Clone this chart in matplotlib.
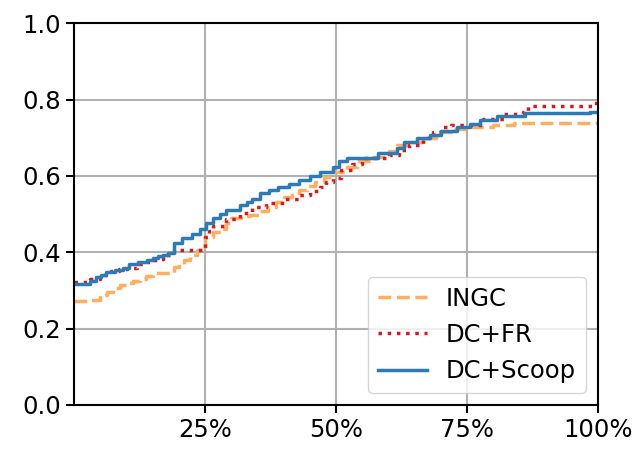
import matplotlib
matplotlib.use("Agg")
import matplotlib.pyplot as plt

# fraction of items (x) vs. cumulative value (y)
ingc_x = [0.000, 0.030, 0.050, 0.062, 0.075, 0.088, 0.100, 0.113, 0.126, 0.138,
          0.150, 0.190, 0.200, 0.210, 0.222, 0.235, 0.250, 0.265, 0.280, 0.290,
          0.300, 0.318, 0.336, 0.352, 0.370, 0.385, 0.400, 0.415, 0.430, 0.445,
          0.460, 0.477, 0.494, 0.520, 0.540, 0.570, 0.600, 0.616, 0.640, 0.666,
          0.690, 0.720, 0.760, 0.800, 0.840, 1.000]
ingc_y = [0.272, 0.276, 0.288, 0.297, 0.306, 0.313, 0.319, 0.325, 0.330, 0.338,
          0.346, 0.362, 0.370, 0.380, 0.392, 0.406, 0.440, 0.452, 0.460, 0.476,
          0.490, 0.494, 0.497, 0.507, 0.518, 0.532, 0.545, 0.555, 0.563, 0.574,
          0.584, 0.598, 0.610, 0.623, 0.640, 0.650, 0.665, 0.680, 0.690, 0.700,
          0.715, 0.722, 0.728, 0.733, 0.738, 0.738]

fr_x = [0.000, 0.030, 0.050, 0.070, 0.085, 0.100, 0.120, 0.140, 0.155, 0.170,
        0.190, 0.250, 0.258, 0.265, 0.290, 0.317, 0.340, 0.367, 0.400, 0.430,
        0.450, 0.470, 0.480, 0.494, 0.510, 0.530, 0.550, 0.600, 0.620, 0.640,
        0.666, 0.685, 0.700, 0.720, 0.780, 0.820, 0.857, 0.866, 0.990, 1.000]
fr_y = [0.322, 0.330, 0.340, 0.350, 0.355, 0.360, 0.368, 0.375, 0.383, 0.392,
        0.406, 0.440, 0.455, 0.470, 0.488, 0.503, 0.518, 0.530, 0.540, 0.550,
        0.560, 0.571, 0.583, 0.594, 0.615, 0.632, 0.647, 0.654, 0.667, 0.680,
        0.700, 0.715, 0.728, 0.733, 0.749, 0.762, 0.767, 0.782, 0.790, 0.790]

scoop_x = [0.000, 0.030, 0.042, 0.052, 0.060, 0.078, 0.094, 0.105, 0.122, 0.140,
           0.150, 0.160, 0.170, 0.180, 0.190, 0.205, 0.225, 0.240, 0.252, 0.265,
           0.278, 0.290, 0.317, 0.330, 0.340, 0.355, 0.372, 0.390, 0.410, 0.430,
           0.450, 0.470, 0.494, 0.505, 0.520, 0.580, 0.616, 0.630, 0.655, 0.680,
           0.700, 0.730, 0.755, 0.775, 0.807, 0.860, 0.985, 1.000]
scoop_y = [0.318, 0.325, 0.334, 0.341, 0.348, 0.354, 0.359, 0.368, 0.374, 0.380,
           0.385, 0.390, 0.394, 0.398, 0.424, 0.437, 0.447, 0.462, 0.476, 0.490,
           0.500, 0.510, 0.524, 0.532, 0.540, 0.555, 0.563, 0.571, 0.580, 0.589,
           0.600, 0.610, 0.623, 0.638, 0.647, 0.660, 0.673, 0.690, 0.698, 0.707,
           0.718, 0.728, 0.737, 0.746, 0.757, 0.764, 0.768, 0.768]

x_ticks = [0.25, 0.5, 0.75, 1.0]
x_labels = ["25%", "50%", "75%", "100%"]

plt.rcParams["font.size"] = 17.5

fig = plt.figure(figsize=(6.39, 4.55), dpi=100)
ax = fig.add_axes([0.116, 0.110, 0.820, 0.839])

ax.plot(ingc_x, ingc_y, drawstyle="steps-post", color="#fdae61",
        linestyle="--", linewidth=2.5, label="INGC")
ax.plot(fr_x, fr_y, drawstyle="steps-post", color="#d7191c",
        linestyle=":", linewidth=2.5, label="DC+FR")
ax.plot(scoop_x, scoop_y, drawstyle="steps-post", color="#2c7bb6",
        linestyle="-", linewidth=2.5, label="DC+Scoop")

ax.set_xlim(0, 1)
ax.set_ylim(0, 1)
ax.set_xticks(x_ticks)
ax.set_xticklabels(x_labels)
ax.set_yticks([0.0, 0.2, 0.4, 0.6, 0.8, 1.0])
ax.grid(True, color="#b0b0b0", linewidth=1.5)
ax.set_axisbelow(True)
for s in ax.spines.values():
    s.set_linewidth(1.5)
ax.tick_params(width=1.5, length=6)

ax.legend(loc="lower right")

fig.savefig("out.png", dpi=100)
